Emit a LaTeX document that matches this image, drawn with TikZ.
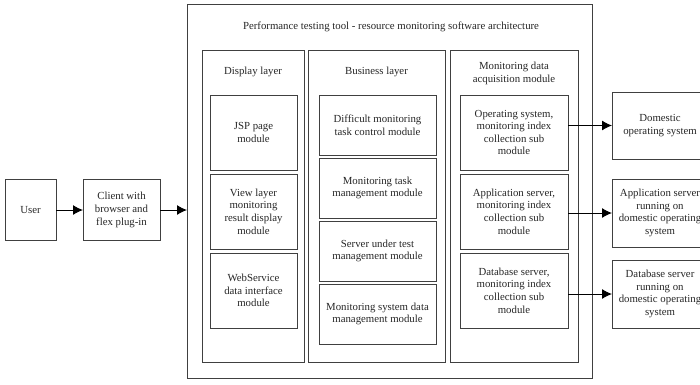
\documentclass[tikz,border=0pt]{standalone}
\usepackage{fontspec}
\setmainfont{Liberation Serif}
\usetikzlibrary{arrows.meta}

\begin{document}
\begin{tikzpicture}[x=1pt, y=-1pt, >={Latex[length=10pt,width=10pt]},
     font=\fontsize{10.8}{12.6}\selectfont,
     box/.style = {draw=black!75, line width=0.9pt, align=center,
        inner sep=0pt, outer sep=0pt, text=black!85},
     lbl/.style = {align=center, inner sep=0pt, text=black!85},
     link/.style = {->, line width=1pt, draw=black}]
    \useasboundingbox (0,0) rectangle (700,384);
    % left side
    \node [box, minimum width=51, minimum height=61] 
        at (30.5,210) (user) {User};
    \node [box, minimum width=77, minimum height=61] 
        at (121.5,210) (client) {Client with\\browser and\\flex plug-in};
    % tool frame
    \node [box, line width=1pt, minimum width=405, minimum height=374] 
        at (389.5,191) (tool) {};
    \node [lbl] at (391,27) (title) 
        {Performance testing tool - resource monitoring software architecture};
    % layers
    \node [box, minimum width=102, minimum height=312] 
        at (253,206) (display) {};
    \node [box, minimum width=137, minimum height=312] 
        at (376.5,206) (business) {};
    \node [box, minimum width=128, minimum height=312] 
        at (514,206) (monitor) {};
    \node [lbl] at (253,72) (displaytitle) {Display layer};
    \node [lbl] at (376.5,72) (businesstitle) {Business layer};
    \node [lbl] at (514,73.5) (monitortitle) 
        {Monitoring data\\acquisition module};
    % display layer modules
    \node [box, minimum width=87, minimum height=75] 
        at (253.5,132.5) (d1) {JSP page\\module};
    \node [box, minimum width=87, minimum height=75] 
        at (253.5,211.5) (d2) {View layer\\monitoring\\result display\\module};
    \node [box, minimum width=87, minimum height=75] 
        at (253.5,290.5) (d3) {WebService\\data interface\\module};
    % business layer modules
    \node [box, minimum width=117, minimum height=60] 
        at (377.5,125) (b1) {Difficult monitoring\\task control module};
    \node [box, minimum width=117, minimum height=60] 
        at (377.5,188) (b2) {Monitoring task\\management module};
    \node [box, minimum width=117, minimum height=60] 
        at (377.5,251) (b3) {Server under test\\management module};
    \node [box, minimum width=117, minimum height=60] 
        at (377.5,314) (b4) {Monitoring system data\\management module};
    % acquisition sub modules
    \node [box, minimum width=108, minimum height=75] 
        at (514,132.5) (m1) 
        {Operating system,\\monitoring index\\collection sub\\module};
    \node [box, minimum width=108, minimum height=75] 
        at (514,211.5) (m2) 
        {Application server,\\monitoring index\\collection sub\\module};
    \node [box, minimum width=108, minimum height=75] 
        at (514,290.5) (m3) 
        {Database server,\\monitoring index\\collection sub\\module};
    % targets
    \node [box, minimum width=96, minimum height=67] 
        at (660,125.5) (r1) {Domestic\\operating system};
    \node [box, minimum width=96, minimum height=68] 
        at (660,213) (r2) 
        {Application server\\running on\\domestic operating\\system};
    \node [box, minimum width=96, minimum height=68] 
        at (660,294) (r3) 
        {Database server\\running on\\domestic operating\\system};
    % arrows
    \draw [link] (user) -- (client);
    \draw [link] (client.east) -- (client.east -| tool.west);
    \draw [link] (r1.west -| m1.east) -- (r1.west);
    \draw [link] (r2.west -| m2.east) -- (r2.west);
    \draw [link] (r3.west -| m3.east) -- (r3.west);
\end{tikzpicture}
\end{document}
